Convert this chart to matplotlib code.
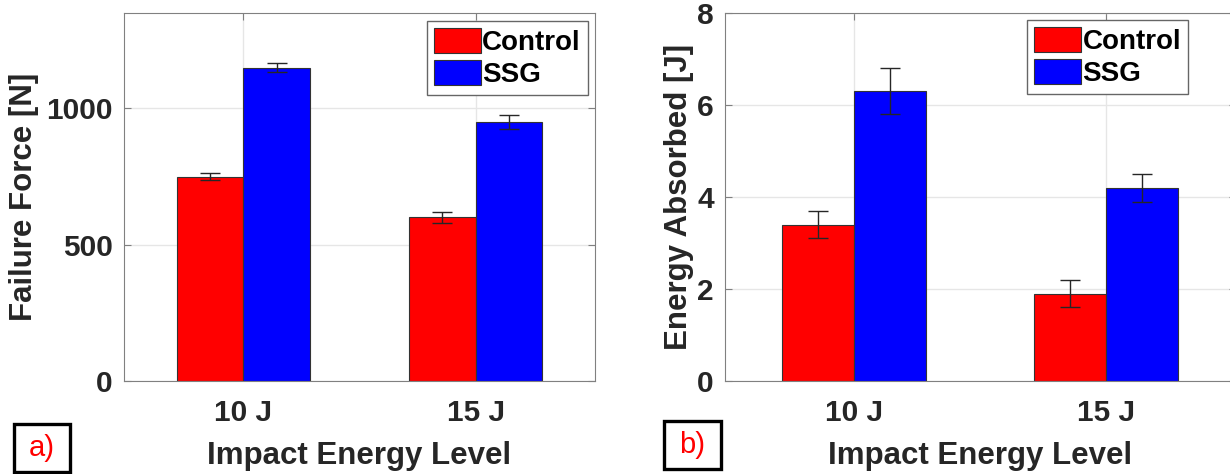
import matplotlib.pyplot as plt
from matplotlib.patches import Rectangle
import numpy as np

plt.rcParams['font.family'] = ['Liberation Sans', 'DejaVu Sans']

levels = ["10 J", "15 J"]
series = ["Control", "SSG"]
force_control = [750, 600]
force_control_err = [12, 20]
force_ssg = [1150, 950]
force_ssg_err = [15, 25]
energy_control = [3.4, 1.9]
energy_control_err = [0.3, 0.3]
energy_ssg = [6.3, 4.2]
energy_ssg_err = [0.5, 0.3]

txt = '#262626'
W, H = 1230, 474
fig = plt.figure(figsize=(12.3, 4.74), dpi=100)
ax1 = fig.add_axes([124/W, 93/H, 471/W, 368/H])
# right panel is cut off by the image edge
ax2 = fig.add_axes([725/W, 93/H, 510.5/W, 368/H])

x = np.arange(1, len(levels) + 1)
w = 0.286

def panel(ax, c, ce, s, se, ylim, yticks, ylabel, leg_anchor, ypad):
    ax.set_axisbelow(True)
    ax.grid(True, color='0.9', linewidth=1)
    ax.bar(x - w/2, c, w, color='#ff0000', edgecolor='0.2', linewidth=0.8, label=series[0])
    ax.bar(x + w/2, s, w, color='#0000ff', edgecolor='0.2', linewidth=0.8, label=series[1])
    ax.errorbar(x - w/2, c, yerr=ce, fmt='none', ecolor='0.15', elinewidth=1, capsize=7)
    ax.errorbar(x + w/2, s, yerr=se, fmt='none', ecolor='0.15', elinewidth=1, capsize=7)
    ax.set_xlim(0.487, 2.513)
    ax.set_ylim(*ylim)
    ax.set_yticks(yticks)
    ax.set_xticks(x)
    ax.set_xticklabels(levels)
    ax.tick_params(direction='in', length=5, top=True, right=True, colors='0.5',
                   labelcolor=txt, labelsize=21.5)
    ax.tick_params(axis='y', pad=8)
    ax.tick_params(axis='x', pad=13)
    for lab in ax.get_xticklabels() + ax.get_yticklabels():
        lab.set_fontweight('bold')
    for sp in ax.spines.values():
        sp.set_color('0.5')
    ax.set_xlabel("Impact Energy Level", fontsize=22.5, fontweight='bold', color=txt, labelpad=10)
    ax.set_ylabel(ylabel, fontsize=22.5, fontweight='bold', color=txt, labelpad=ypad)
    leg = ax.legend(loc='upper right', bbox_to_anchor=leg_anchor,
                    prop={'weight': 'bold', 'size': 20},
                    fancybox=False, edgecolor='0.4', framealpha=1,
                    handlelength=1.7, handleheight=1.0, handletextpad=0.05,
                    borderpad=0.25, labelspacing=0.15, borderaxespad=0)
    leg.get_frame().set_linewidth(1)

panel(ax1, force_control, force_control_err, force_ssg, force_ssg_err,
      (0, 1350), [0, 500, 1000], "Failure Force [N]", (0.985, 0.978), 5)
panel(ax2, energy_control, energy_control_err, energy_ssg, energy_ssg_err,
      (0, 8), [0, 2, 4, 6, 8], "Energy Absorbed [J]", (0.907, 0.981), 2)

# panel tags a) and b)
for (x0, y0, x1, y1), tag in [((14, 424, 70, 472), "a)"), ((664, 421, 721, 469), "b)")]:
    fig.add_artist(Rectangle((x0/W, 1 - y1/H), (x1 - x0)/W, (y1 - y0)/H,
                             transform=fig.transFigure, facecolor='white',
                             edgecolor='black', linewidth=2.4))
    fig.text((x0 + x1)/2/W, 1 - (y0 + y1)/2/H, tag, color='red', fontsize=21,
             ha='center', va='center')

plt.savefig('out.png', dpi=100)
